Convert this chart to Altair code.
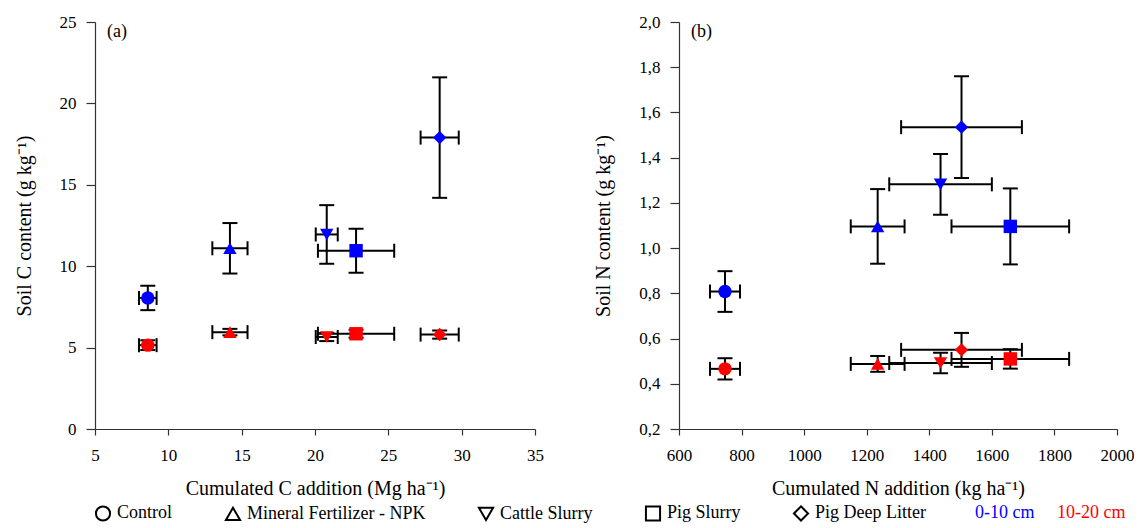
import altair as alt
import pandas as pd

treatments = ["Control", "Mineral Fertilizer - NPK", "Cattle Slurry", "Pig Slurry", "Pig Deep Litter"]
shapes = ["circle", "triangle-up", "triangle-down", "square", "diamond"]
depths = ["0-10 cm", "10-20 cm"]
depth_colors = ["#0000FF", "#FF0000"]

# Panel (a): carbon
c_add = [8.6, 14.2, 20.8, 22.8, 28.5]
c_add_err = [0.6, 1.2, 0.75, 2.6, 1.3]
soil_c_0_10 = [8.05, 11.1, 11.95, 10.95, 17.9]
soil_c_0_10_err = [0.75, 1.55, 1.8, 1.35, 3.7]
soil_c_10_20 = [5.15, 5.95, 5.65, 5.85, 5.8]
soil_c_10_20_err = [0.3, 0.2, 0.25, 0.25, 0.25]

# Panel (b): nitrogen
n_add = [747, 1235, 1436, 1659, 1503]
n_add_err = [48, 86, 164, 188, 193]
soil_n_0_10 = [0.808, 1.096, 1.282, 1.096, 1.535]
soil_n_0_10_err = [0.09, 0.165, 0.134, 0.168, 0.225]
soil_n_10_20 = [0.466, 0.488, 0.492, 0.51, 0.55]
soil_n_10_20_err = [0.047, 0.035, 0.045, 0.043, 0.075]

x_ticks_a = [5, 10, 15, 20, 25, 30, 35]
y_ticks_a = [0, 5, 10, 15, 20, 25]
x_ticks_b = [600, 800, 1000, 1200, 1400, 1600, 1800, 2000]
y_ticks_b = [0.2, 0.4, 0.6, 0.8, 1.0, 1.2, 1.4, 1.6, 1.8, 2.0]
panel_labels = ["(a)", "(b)"]

FONT = "Liberation Serif"


def make_df(xv, xe, y1, e1, y2, e2):
    rows = []
    for depth, yv, ye in [(depths[0], y1, e1), (depths[1], y2, e2)]:
        for i, t in enumerate(treatments):
            rows.append(dict(treatment=t, depth=depth, x=xv[i], y=yv[i],
                             xlo=xv[i] - xe[i], xhi=xv[i] + xe[i],
                             ylo=yv[i] - ye[i], yhi=yv[i] + ye[i]))
    return pd.DataFrame(rows)


shape_scale = alt.Scale(domain=treatments, range=shapes)
color_scale = alt.Scale(domain=depths, range=depth_colors)


def panel(df, xdom, ydom, xvals, yvals, xtitle, ytitle, label, ylabel_expr, show_legend, width):
    base = alt.Chart(df)
    xs = alt.Scale(domain=xdom, nice=False, zero=False)
    ys = alt.Scale(domain=ydom, nice=False, zero=False)
    xax = alt.Axis(values=xvals, title=xtitle, tickSize=6, labelPadding=12, titlePadding=15,
                   labelFlush=False, format="d")
    yax = alt.Axis(values=yvals, title=ytitle, tickSize=9, labelPadding=10, titlePadding=25,
                   labelExpr=ylabel_expr)

    hbar = base.mark_rule(color="black", strokeWidth=2).encode(
        x=alt.X("xlo:Q", scale=xs, axis=xax), x2="xhi:Q", y=alt.Y("y:Q", scale=ys, axis=yax))
    vbar = base.mark_rule(color="black", strokeWidth=2).encode(
        x=alt.X("x:Q", scale=xs), y=alt.Y("ylo:Q", scale=ys), y2="yhi:Q")
    xcaps = base.transform_fold(["xlo", "xhi"], as_=["k", "xc"]).mark_tick(
        orient="vertical", size=14, thickness=2, color="black", opacity=1).encode(
        x=alt.X("xc:Q", scale=xs), y=alt.Y("y:Q", scale=ys))
    ycaps = base.transform_fold(["ylo", "yhi"], as_=["k", "yc"]).mark_tick(
        orient="horizontal", size=15, thickness=2, color="black", opacity=1).encode(
        x=alt.X("x:Q", scale=xs), y=alt.Y("yc:Q", scale=ys))

    if show_legend:
        shape_enc = alt.Shape("treatment:N", scale=shape_scale, legend=alt.Legend(
            title=None, orient="none", direction="horizontal",
            legendX=-1, legendY=482, columnPadding=48, labelLimit=0,
            symbolFillColor="white", symbolStrokeColor="black",
            symbolStrokeWidth=2, symbolSize=200, labelFont=FONT,
            labelFontSize=18, labelColor="black", labelOffset=5))
        color_enc = alt.Color("depth:N", scale=color_scale, legend=alt.Legend(
            title=None, orient="none", direction="horizontal",
            legendX=862, legendY=482, columnPadding=4, labelLimit=0,
            symbolOpacity=0, symbolSize=1, symbolStrokeWidth=0,
            labelFont=FONT, labelFontSize=18, labelOffset=0,
            labelColor={"expr": "datum.label == '0-10 cm' ? '#0000FF' : '#FF0000'"}))
    else:
        shape_enc = alt.Shape("treatment:N", scale=shape_scale, legend=None)
        color_enc = alt.Color("depth:N", scale=color_scale, legend=None)

    pts = base.mark_point(filled=True, size=180, opacity=1).encode(
        x=alt.X("x:Q", scale=xs), y=alt.Y("y:Q", scale=ys),
        shape=shape_enc, color=color_enc)
    lab = alt.Chart(pd.DataFrame({"t": [label]})).mark_text(
        align="left", baseline="middle", font=FONT, fontSize=18, color="black").encode(
        text="t:N", x=alt.value(12), y=alt.value(10))
    return alt.layer(hbar, vbar, xcaps, ycaps, pts, lab).properties(width=width, height=407)


df_a = make_df(c_add, c_add_err, soil_c_0_10, soil_c_0_10_err, soil_c_10_20, soil_c_10_20_err)
df_b = make_df(n_add, n_add_err, soil_n_0_10, soil_n_0_10_err, soil_n_10_20, soil_n_10_20_err)

pa = panel(df_a, [5, 35], [0, 25], x_ticks_a, y_ticks_a,
           "Cumulated C addition (Mg ha\u207b\u00b9)", "Soil C content (g kg\u207b\u00b9)",
           panel_labels[0], "datum.label", True, 440)
pb = panel(df_b, [600, 2000], [0.2, 2.0], x_ticks_b, y_ticks_b,
           "Cumulated N addition (kg ha\u207b\u00b9)", "Soil N content (g kg\u207b\u00b9)",
           panel_labels[1], "replace(format(datum.value, '.1f'), '.', ',')", False, 438)

chart = alt.hconcat(pa, pb, spacing=49).properties(
    padding={"left": 6, "top": 5, "right": 0, "bottom": 0}
).configure_view(stroke=None).configure_axis(
    grid=False, domainColor="#333333", tickColor="#333333", domainWidth=1.2, tickWidth=1.2,
    labelFont=FONT, labelFontSize=17, labelColor="black",
    titleFont=FONT, titleFontSize=20, titleFontWeight="normal", titleColor="black",
)

chart.save("out.html", embed_options={"renderer": "svg", "actions": False})
